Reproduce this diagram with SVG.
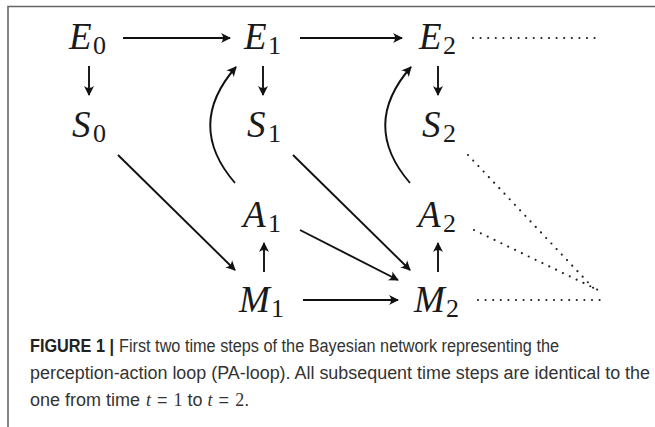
<svg xmlns="http://www.w3.org/2000/svg" width="655" height="427" viewBox="0 0 655 427">
<defs>
<marker id="ah" viewBox="-10 -6 12 12" refX="0" refY="0" markerWidth="12" markerHeight="12" markerUnits="userSpaceOnUse" orient="auto">
<path d="M1,0 L-9,-5 Q-5,0 -9,5 Z" fill="#111"/>
</marker>
</defs>
<style>
.v{font-family:"Liberation Serif","DejaVu Serif",serif;font-style:italic;font-size:37px;fill:#1a1a1a}
.s{font-family:"Liberation Serif","DejaVu Serif",serif;font-size:26px;fill:#1a1a1a}
.c{stroke:#111;stroke-width:1.9;fill:none;marker-end:url(#ah)}
.d{stroke:#222;stroke-width:2.2;fill:none;stroke-linecap:round;stroke-dasharray:0 7.6}
.cap{font-family:"Liberation Sans","Roboto",sans-serif;font-size:18px;fill:#333}
.b{font-weight:bold;fill:#222}
.m{font-family:"Liberation Serif",serif}
</style>
<rect width="655" height="427" fill="#fff"/>
<path d="M8,427 V6.5 H655" stroke="#666" stroke-width="1.6" fill="none"/>
<g id="E0"><text class="v" x="69" y="49">E</text><text class="s" x="93" y="54">0</text></g>
<g id="E1"><text class="v" x="244" y="49">E</text><text class="s" x="268" y="54">1</text></g>
<g id="E2"><text class="v" x="419" y="49">E</text><text class="s" x="443" y="54">2</text></g>
<g id="S0"><text class="v" x="72" y="137">S</text><text class="s" x="93" y="142">0</text></g>
<g id="S1"><text class="v" x="247" y="137">S</text><text class="s" x="268" y="142">1</text></g>
<g id="S2"><text class="v" x="422" y="137">S</text><text class="s" x="443" y="142">2</text></g>
<g id="A1"><text class="v" x="243" y="227">A</text><text class="s" x="268" y="232">1</text></g>
<g id="A2"><text class="v" x="418" y="227">A</text><text class="s" x="443" y="232">2</text></g>
<g id="M1"><text class="v" x="239" y="312">M</text><text class="s" x="271" y="317">1</text></g>
<g id="M2"><text class="v" x="414" y="312">M</text><text class="s" x="446" y="317">2</text></g>
<g id="connectors">
<line class="c" x1="123" y1="38" x2="230" y2="38"/>
<line class="c" x1="300" y1="38" x2="402" y2="38"/>
<line class="c" x1="89" y1="66" x2="89" y2="95"/>
<line class="c" x1="263" y1="66" x2="263" y2="95"/>
<line class="c" x1="438" y1="66" x2="438" y2="95"/>
<line class="c" x1="118" y1="155" x2="235" y2="270"/>
<line class="c" x1="293" y1="155" x2="410" y2="270"/>
<line class="c" x1="300" y1="230" x2="398" y2="280"/>
<line class="c" x1="303" y1="300" x2="398" y2="300"/>
<line class="c" x1="264" y1="272" x2="264" y2="243"/>
<line class="c" x1="438" y1="272" x2="438" y2="243"/>
<path class="c" d="M235,183 Q185,125 236,67"/>
<path class="c" d="M410,183 Q360,125 411,67"/>
<line class="d" x1="473" y1="38" x2="598" y2="38"/>
<line class="d" x1="468" y1="155" x2="598" y2="293"/>
<line class="d" x1="474" y1="230" x2="598" y2="290"/>
<line class="d" x1="478" y1="300" x2="600" y2="300"/>
</g>
<text class="cap b" x="30" y="352" textLength="84" lengthAdjust="spacingAndGlyphs">FIGURE 1 |</text>
<text class="cap" x="119" y="352" textLength="440" lengthAdjust="spacingAndGlyphs">First two time steps of the Bayesian network representing the</text>
<text class="cap" x="30" y="379" textLength="620" lengthAdjust="spacingAndGlyphs">perception-action loop (PA-loop). All subsequent time steps are identical to the</text>
<text class="cap" x="30" y="406">one from time <tspan class="m" font-style="italic" dx="1">t</tspan><tspan dx="6">=</tspan><tspan class="m" dx="6">1</tspan> to <tspan class="m" font-style="italic">t</tspan><tspan dx="6">=</tspan><tspan class="m" dx="6">2</tspan>.</text>
</svg>
